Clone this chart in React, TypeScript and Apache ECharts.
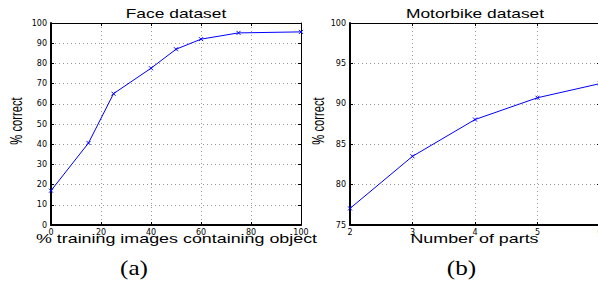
import React, { useEffect, useRef } from "react";
import * as echarts from "echarts";

const faceX = [0, 15, 25, 40, 50, 60, 75, 100];
const faceY = [17, 40.6, 65, 77.6, 87, 92, 95.1, 95.6];
const motoX = [2, 3, 4, 5, 6];
const motoY = [77.05, 83.5, 88.05, 90.75, 92.5];

const faceTitle = "Face dataset";
const motoTitle = "Motorbike dataset";
const faceXName = "% training images containing object";
const motoXName = "Number of parts";
const yName = "% correct";

const BLUE = "#0000ff";
const TICKFONT = "DejaVu Sans";
const SANS = "Liberation Sans, Arial, Helvetica, sans-serif";
const SERIF = "Liberation Serif, Times New Roman, serif";

export default function App() {
  const ref = useRef<HTMLDivElement>(null);
  useEffect(() => {
    if (!ref.current) return;
    const chart = echarts.init(ref.current, null, { renderer: "svg" });

    const mainX = (gridIndex: number, min: number, max: number, interval: number) => ({
      type: "value",
      gridIndex,
      min,
      max,
      interval,
      position: "bottom",
      axisLine: { show: true, onZero: false, lineStyle: { color: "#000", width: 2 } },
      axisTick: { show: true, inside: true, length: 3, lineStyle: { color: "#000", width: 1 } },
      axisLabel: { show: true, color: "#000", fontSize: 8, fontFamily: TICKFONT, margin: 3 },
      splitLine: { show: true, lineStyle: { color: "#999", width: 1, type: [1, 3] } },
    });
    const mirrorX = (gridIndex: number, min: number, max: number, interval: number) => ({
      type: "value",
      gridIndex,
      min,
      max,
      interval,
      position: "top",
      axisLine: { show: true, onZero: false, lineStyle: { color: "#000", width: 1 } },
      axisTick: { show: true, inside: true, length: 3, lineStyle: { color: "#000", width: 1 } },
      axisLabel: { show: false },
      splitLine: { show: false },
    });
    const mainY = (gridIndex: number, min: number, max: number, interval: number) => ({
      type: "value",
      gridIndex,
      min,
      max,
      interval,
      position: "left",
      axisLine: { show: true, onZero: false, lineStyle: { color: "#000", width: 2 } },
      axisTick: { show: true, inside: true, length: 3, lineStyle: { color: "#000", width: 1 } },
      axisLabel: { show: true, color: "#000", fontSize: 8, fontFamily: TICKFONT, margin: 4 },
      splitLine: { show: true, lineStyle: { color: "#999", width: 1, type: [1, 3] } },
    });
    const mirrorY = (gridIndex: number, min: number, max: number, interval: number) => ({
      type: "value",
      gridIndex,
      min,
      max,
      interval,
      position: "right",
      axisLine: { show: true, onZero: false, lineStyle: { color: "#000", width: 1 } },
      axisTick: { show: true, inside: true, length: 3, lineStyle: { color: "#000", width: 1 } },
      axisLabel: { show: false },
      splitLine: { show: false },
    });

    const textEl = (
      text: string,
      x: number,
      y: number,
      font: string,
      size: number,
      scaleX: number,
      rotation = 0
    ) => ({
      type: "text",
      x,
      y,
      scaleX,
      rotation,
      silent: true,
      style: {
        text,
        fontFamily: font,
        fontSize: size,
        fill: "#000",
        align: "center",
        verticalAlign: "middle",
      },
    });

    const xSymbol = "path://M0,0L10,10M10,0L0,10";

    chart.setOption({
      animation: false,
      backgroundColor: "#fff",
      grid: [
        { left: 51, top: 23, width: 250, height: 202, outerBoundsMode: "none", containLabel: false },
        { left: 350, top: 23, width: 250, height: 202, outerBoundsMode: "none", containLabel: false },
      ],
      xAxis: [
        mainX(0, 0, 100, 20),
        mainX(1, 2, 6, 1),
        mirrorX(0, 0, 100, 20),
        mirrorX(1, 2, 6, 1),
      ],
      yAxis: [
        mainY(0, 0, 100, 10),
        mainY(1, 75, 100, 5),
        mirrorY(0, 0, 100, 10),
        mirrorY(1, 75, 100, 5),
      ],
      series: [
        {
          type: "line",
          xAxisIndex: 0,
          yAxisIndex: 0,
          data: faceX.map((x, i) => [x, faceY[i]]),
          lineStyle: { color: BLUE, width: 1 },
          symbol: xSymbol,
          symbolSize: 4,
          showAllSymbol: true,
          itemStyle: { color: BLUE, borderColor: BLUE, borderWidth: 1 },
          clip: false,
        },
        {
          type: "line",
          xAxisIndex: 1,
          yAxisIndex: 1,
          data: motoX.map((x, i) => [x, motoY[i]]),
          lineStyle: { color: BLUE, width: 1 },
          symbol: xSymbol,
          symbolSize: 4,
          showAllSymbol: true,
          itemStyle: { color: BLUE, borderColor: BLUE, borderWidth: 1 },
          clip: false,
        },
      ],
      graphic: [
        textEl(faceTitle, 176, 14, SANS, 12, 1.45),
        textEl(motoTitle, 475, 14, SANS, 12, 1.45),
        textEl(faceXName, 176.5, 239, SANS, 12, 1.49),
        textEl(motoXName, 474.5, 239, SANS, 12, 1.49),
        textEl(yName, 16.5, 121, SANS, 17, 0.66, Math.PI / 2),
        textEl(yName, 318, 121, SANS, 17, 0.66, Math.PI / 2),
        textEl("(a)", 134, 268, SERIF, 21, 1.2),
        textEl("(b)", 461.5, 268, SERIF, 21, 1.2),
      ],
    });
    return () => chart.dispose();
  }, []);

  return (
    <div
      ref={ref}
      style={{ position: "fixed", left: 0, top: 0, width: 598, height: 282, background: "#fff" }}
    />
  );
}
